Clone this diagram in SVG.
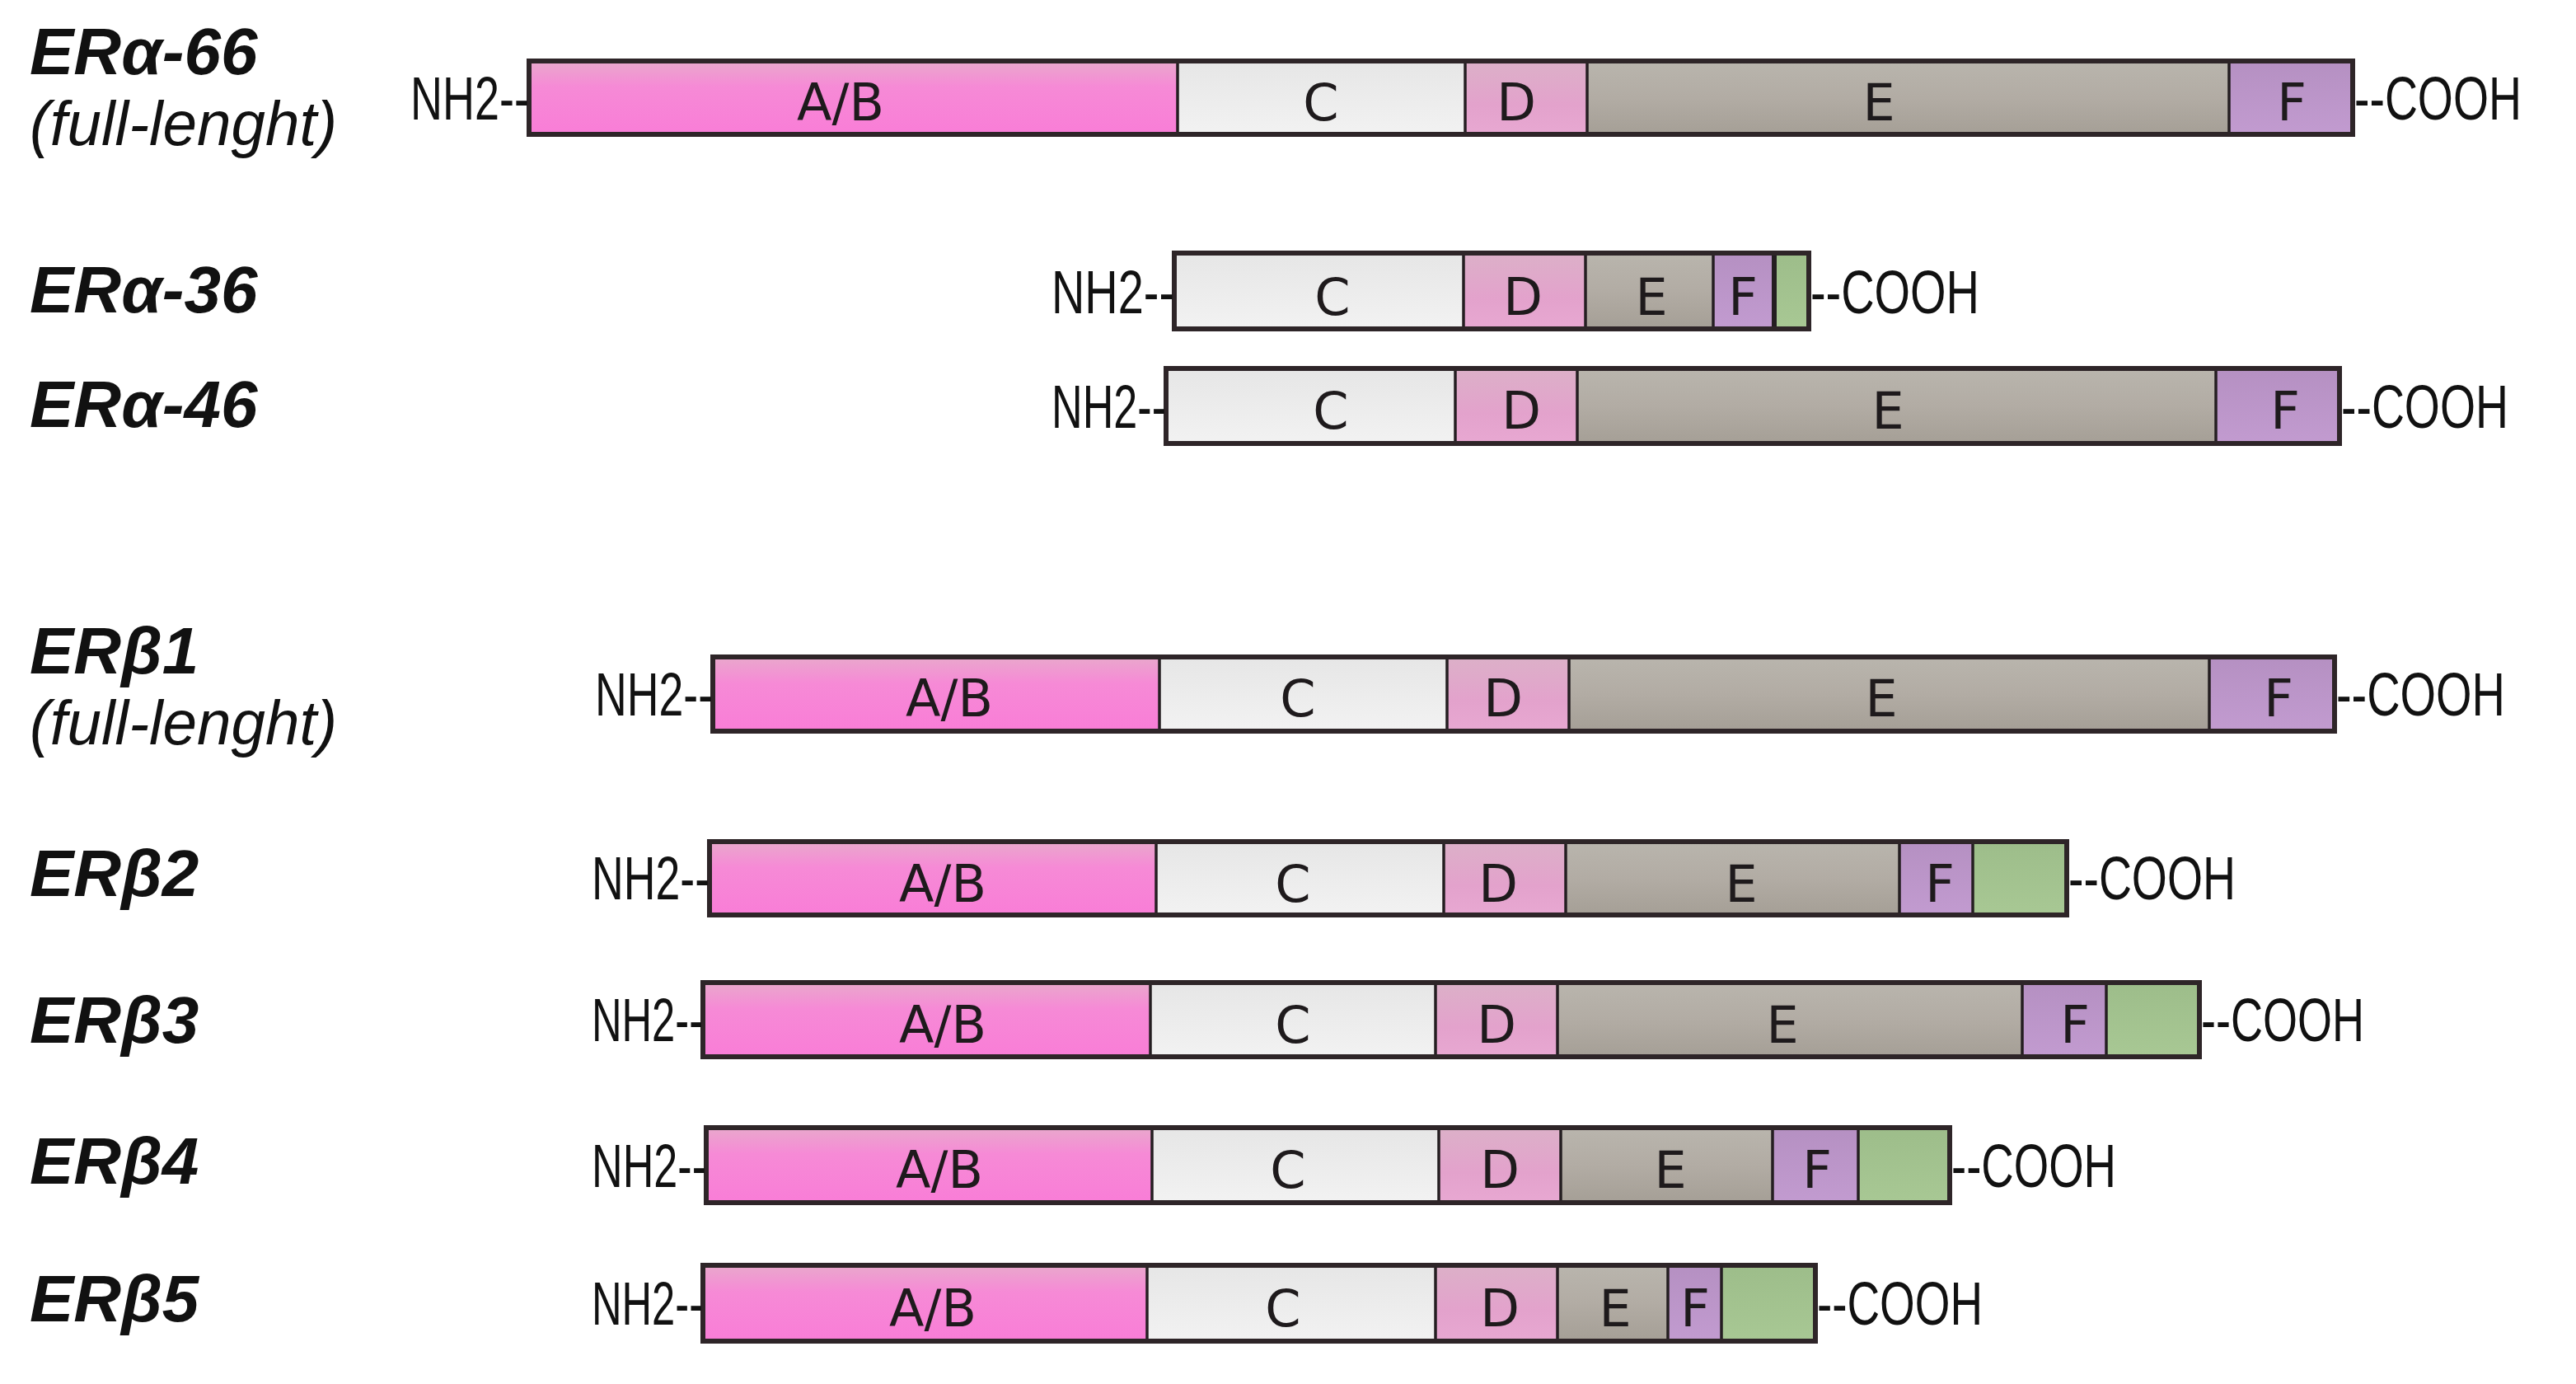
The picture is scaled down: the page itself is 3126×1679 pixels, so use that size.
<svg xmlns="http://www.w3.org/2000/svg" width="3126" height="1679" viewBox="0 0 3126 1679">
<defs>
<linearGradient id="gAB" x1="0" y1="0" x2="0" y2="1"><stop offset="0" stop-color="#e9a8cc"/><stop offset="0.35" stop-color="#f68ad6"/><stop offset="1" stop-color="#f97dd7"/></linearGradient>
<linearGradient id="gC" x1="0" y1="0" x2="0" y2="1"><stop offset="0" stop-color="#e6e6e6"/><stop offset="0.5" stop-color="#ececec"/><stop offset="1" stop-color="#f2f2f2"/></linearGradient>
<linearGradient id="gD" x1="0" y1="0" x2="0" y2="1"><stop offset="0" stop-color="#dcb0c8"/><stop offset="0.6" stop-color="#e3a2cc"/><stop offset="1" stop-color="#e8a8d2"/></linearGradient>
<linearGradient id="gE" x1="0" y1="0" x2="0" y2="1"><stop offset="0" stop-color="#b9b5ad"/><stop offset="0.5" stop-color="#b2aca4"/><stop offset="1" stop-color="#a59f96"/></linearGradient>
<linearGradient id="gF" x1="0" y1="0" x2="0" y2="1"><stop offset="0" stop-color="#b590c2"/><stop offset="1" stop-color="#c29bd0"/></linearGradient>
<linearGradient id="gG" x1="0" y1="0" x2="0" y2="1"><stop offset="0" stop-color="#9dbd8a"/><stop offset="1" stop-color="#a8c894"/></linearGradient>
</defs>
<style>
.ab{fill:url(#gAB)} .c{fill:url(#gC)} .d{fill:url(#gD)} .e{fill:url(#gE)} .f{fill:url(#gF)} .g{fill:url(#gG)}
.sep{stroke:#241e21;stroke-width:3.5}
.out{fill:none;stroke:#2e2528;stroke-width:6}
.lbl{font-family:"Liberation Sans",Arial,sans-serif;font-weight:bold;font-style:italic;font-size:80px;fill:#111}
.sub{font-family:"Liberation Sans",Arial,sans-serif;font-style:italic;font-size:76px;fill:#111}
.term{font-family:"Liberation Sans",Arial,sans-serif;font-size:74px;fill:#111}
.dom{font-family:"DejaVu Sans",sans-serif;font-size:62px;text-anchor:middle;fill:#1e1a1c}
</style>
<rect width="3126" height="1679" fill="#ffffff"/>

<g id="labels">
<text class="lbl" x="36" y="90">ERα-66</text>
<text class="sub" x="36" y="176" textLength="373" lengthAdjust="spacingAndGlyphs">(full-lenght)</text>
<text class="lbl" x="36" y="379">ERα-36</text>
<text class="lbl" x="36" y="518">ERα-46</text>
<text class="lbl" x="36" y="817">ERβ1</text>
<text class="sub" x="36" y="903" textLength="373" lengthAdjust="spacingAndGlyphs">(full-lenght)</text>
<text class="lbl" x="36" y="1087">ERβ2</text>
<text class="lbl" x="36" y="1265">ERβ3</text>
<text class="lbl" x="36" y="1436">ERβ4</text>
<text class="lbl" x="36" y="1603">ERβ5</text>
</g>

<g id="era66">
<rect class="ab" x="642" y="74" width="787" height="89"/>
<rect class="c" x="1429" y="74" width="349" height="89"/>
<rect class="d" x="1778" y="74" width="148" height="89"/>
<rect class="e" x="1926" y="74" width="779" height="89"/>
<rect class="f" x="2705" y="74" width="150" height="89"/>
<line class="sep" x1="1429" y1="74" x2="1429" y2="163"/><line class="sep" x1="1778" y1="74" x2="1778" y2="163"/><line class="sep" x1="1926" y1="74" x2="1926" y2="163"/><line class="sep" x1="2705" y1="74" x2="2705" y2="163"/>
<rect class="out" x="642" y="74" width="2213" height="89"/>
<text class="term" x="642" y="145" text-anchor="end" textLength="144" lengthAdjust="spacingAndGlyphs">NH2--</text>
<text class="term" x="2857" y="145" textLength="203" lengthAdjust="spacingAndGlyphs">--COOH</text>
<text class="dom" x="1020" y="146">A/B</text><text class="dom" x="1603" y="146">C</text><text class="dom" x="1840" y="146">D</text><text class="dom" x="2280" y="146">E</text><text class="dom" x="2781" y="146">F</text>
</g>

<g id="era36">
<rect class="c" x="1425" y="307" width="351" height="92"/>
<rect class="d" x="1776" y="307" width="148" height="92"/>
<rect class="e" x="1924" y="307" width="155" height="92"/>
<rect class="f" x="2079" y="307" width="72" height="92"/>
<rect class="g" x="2151" y="307" width="44" height="92"/>
<line class="sep" x1="1776" y1="307" x2="1776" y2="399"/><line class="sep" x1="1924" y1="307" x2="1924" y2="399"/><line class="sep" x1="2079" y1="307" x2="2079" y2="399"/><line class="sep" x1="2153" y1="307" x2="2153" y2="399" style="stroke-width:6"/>
<rect class="out" x="1425" y="307" width="770" height="92"/>
<text class="term" x="1425" y="380" text-anchor="end" textLength="149" lengthAdjust="spacingAndGlyphs">NH2--</text>
<text class="term" x="2197" y="380" textLength="205" lengthAdjust="spacingAndGlyphs">--COOH</text>
<text class="dom" x="1617" y="382">C</text><text class="dom" x="1848" y="382">D</text><text class="dom" x="2004" y="382">E</text><text class="dom" x="2115" y="382">F</text>
</g>

<g id="era46">
<rect class="c" x="1415" y="447" width="351" height="91"/>
<rect class="d" x="1766" y="447" width="148" height="91"/>
<rect class="e" x="1914" y="447" width="775" height="91"/>
<rect class="f" x="2689" y="447" width="150" height="91"/>
<line class="sep" x1="1766" y1="447" x2="1766" y2="538"/><line class="sep" x1="1914" y1="447" x2="1914" y2="538"/><line class="sep" x1="2689" y1="447" x2="2689" y2="538"/>
<rect class="out" x="1415" y="447" width="1424" height="91"/>
<text class="term" x="1415" y="519" text-anchor="end" textLength="139" lengthAdjust="spacingAndGlyphs">NH2--</text>
<text class="term" x="2841" y="519" textLength="203" lengthAdjust="spacingAndGlyphs">--COOH</text>
<text class="dom" x="1615" y="520">C</text><text class="dom" x="1846" y="520">D</text><text class="dom" x="2291" y="520">E</text><text class="dom" x="2773" y="520">F</text>
</g>

<g id="erb1">
<rect class="ab" x="865" y="797" width="542" height="90"/>
<rect class="c" x="1407" y="797" width="349" height="90"/>
<rect class="d" x="1756" y="797" width="148" height="90"/>
<rect class="e" x="1904" y="797" width="777" height="90"/>
<rect class="f" x="2681" y="797" width="152" height="90"/>
<line class="sep" x1="1407" y1="797" x2="1407" y2="887"/><line class="sep" x1="1756" y1="797" x2="1756" y2="887"/><line class="sep" x1="1904" y1="797" x2="1904" y2="887"/><line class="sep" x1="2681" y1="797" x2="2681" y2="887"/>
<rect class="out" x="865" y="797" width="1968" height="90"/>
<text class="term" x="865" y="868" text-anchor="end" textLength="143" lengthAdjust="spacingAndGlyphs">NH2--</text>
<text class="term" x="2835" y="868" textLength="205" lengthAdjust="spacingAndGlyphs">--COOH</text>
<text class="dom" x="1152" y="869">A/B</text><text class="dom" x="1575" y="869">C</text><text class="dom" x="1824" y="869">D</text><text class="dom" x="2283" y="869">E</text><text class="dom" x="2765" y="869">F</text>
</g>

<g id="erb2">
<rect class="ab" x="861" y="1021" width="542" height="89"/>
<rect class="c" x="1403" y="1021" width="349" height="89"/>
<rect class="d" x="1752" y="1021" width="148" height="89"/>
<rect class="e" x="1900" y="1021" width="405" height="89"/>
<rect class="f" x="2305" y="1021" width="89" height="89"/>
<rect class="g" x="2394" y="1021" width="114" height="89"/>
<line class="sep" x1="1403" y1="1021" x2="1403" y2="1110"/><line class="sep" x1="1752" y1="1021" x2="1752" y2="1110"/><line class="sep" x1="1900" y1="1021" x2="1900" y2="1110"/><line class="sep" x1="2305" y1="1021" x2="2305" y2="1110"/><line class="sep" x1="2394" y1="1021" x2="2394" y2="1110"/>
<rect class="out" x="861" y="1021" width="1647" height="89"/>
<text class="term" x="861" y="1091" text-anchor="end" textLength="143" lengthAdjust="spacingAndGlyphs">NH2--</text>
<text class="term" x="2510" y="1091" textLength="203" lengthAdjust="spacingAndGlyphs">--COOH</text>
<text class="dom" x="1144" y="1094">A/B</text><text class="dom" x="1569" y="1094">C</text><text class="dom" x="1818" y="1094">D</text><text class="dom" x="2113" y="1094">E</text><text class="dom" x="2354" y="1094">F</text>
</g>

<g id="erb3">
<rect class="ab" x="853" y="1192" width="543" height="90"/>
<rect class="c" x="1396" y="1192" width="346" height="90"/>
<rect class="d" x="1742" y="1192" width="148" height="90"/>
<rect class="e" x="1890" y="1192" width="564" height="90"/>
<rect class="f" x="2454" y="1192" width="102" height="90"/>
<rect class="g" x="2556" y="1192" width="113" height="90"/>
<line class="sep" x1="1396" y1="1192" x2="1396" y2="1282"/><line class="sep" x1="1742" y1="1192" x2="1742" y2="1282"/><line class="sep" x1="1890" y1="1192" x2="1890" y2="1282"/><line class="sep" x1="2454" y1="1192" x2="2454" y2="1282"/><line class="sep" x1="2556" y1="1192" x2="2556" y2="1282"/>
<rect class="out" x="853" y="1192" width="1816" height="90"/>
<text class="term" x="853" y="1263" text-anchor="end" textLength="135" lengthAdjust="spacingAndGlyphs">NH2--</text>
<text class="term" x="2671" y="1263" textLength="198" lengthAdjust="spacingAndGlyphs">--COOH</text>
<text class="dom" x="1144" y="1265">A/B</text><text class="dom" x="1569" y="1265">C</text><text class="dom" x="1816" y="1265">D</text><text class="dom" x="2163" y="1265">E</text><text class="dom" x="2518" y="1265">F</text>
</g>

<g id="erb4">
<rect class="ab" x="857" y="1368" width="541" height="91"/>
<rect class="c" x="1398" y="1368" width="348" height="91"/>
<rect class="d" x="1746" y="1368" width="148" height="91"/>
<rect class="e" x="1894" y="1368" width="257" height="91"/>
<rect class="f" x="2151" y="1368" width="104" height="91"/>
<rect class="g" x="2255" y="1368" width="111" height="91"/>
<line class="sep" x1="1398" y1="1368" x2="1398" y2="1459"/><line class="sep" x1="1746" y1="1368" x2="1746" y2="1459"/><line class="sep" x1="1894" y1="1368" x2="1894" y2="1459"/><line class="sep" x1="2151" y1="1368" x2="2151" y2="1459"/><line class="sep" x1="2255" y1="1368" x2="2255" y2="1459"/>
<rect class="out" x="857" y="1368" width="1509" height="91"/>
<text class="term" x="857" y="1440" text-anchor="end" textLength="139" lengthAdjust="spacingAndGlyphs">NH2--</text>
<text class="term" x="2368" y="1440" textLength="200" lengthAdjust="spacingAndGlyphs">--COOH</text>
<text class="dom" x="1140" y="1441">A/B</text><text class="dom" x="1563" y="1441">C</text><text class="dom" x="1820" y="1441">D</text><text class="dom" x="2027" y="1441">E</text><text class="dom" x="2205" y="1441">F</text>
</g>

<g id="erb5">
<rect class="ab" x="853" y="1535" width="539" height="92"/>
<rect class="c" x="1392" y="1535" width="350" height="92"/>
<rect class="d" x="1742" y="1535" width="148" height="92"/>
<rect class="e" x="1890" y="1535" width="134" height="92"/>
<rect class="f" x="2024" y="1535" width="65" height="92"/>
<rect class="g" x="2089" y="1535" width="114" height="92"/>
<line class="sep" x1="1392" y1="1535" x2="1392" y2="1627"/><line class="sep" x1="1742" y1="1535" x2="1742" y2="1627"/><line class="sep" x1="1890" y1="1535" x2="1890" y2="1627"/><line class="sep" x1="2024" y1="1535" x2="2024" y2="1627"/><line class="sep" x1="2089" y1="1535" x2="2089" y2="1627"/>
<rect class="out" x="853" y="1535" width="1350" height="92"/>
<text class="term" x="853" y="1607" text-anchor="end" textLength="135" lengthAdjust="spacingAndGlyphs">NH2--</text>
<text class="term" x="2205" y="1607" textLength="201" lengthAdjust="spacingAndGlyphs">--COOH</text>
<text class="dom" x="1132" y="1609">A/B</text><text class="dom" x="1557" y="1609">C</text><text class="dom" x="1820" y="1609">D</text><text class="dom" x="1960" y="1609">E</text><text class="dom" x="2057" y="1609">F</text>
</g>
</svg>
